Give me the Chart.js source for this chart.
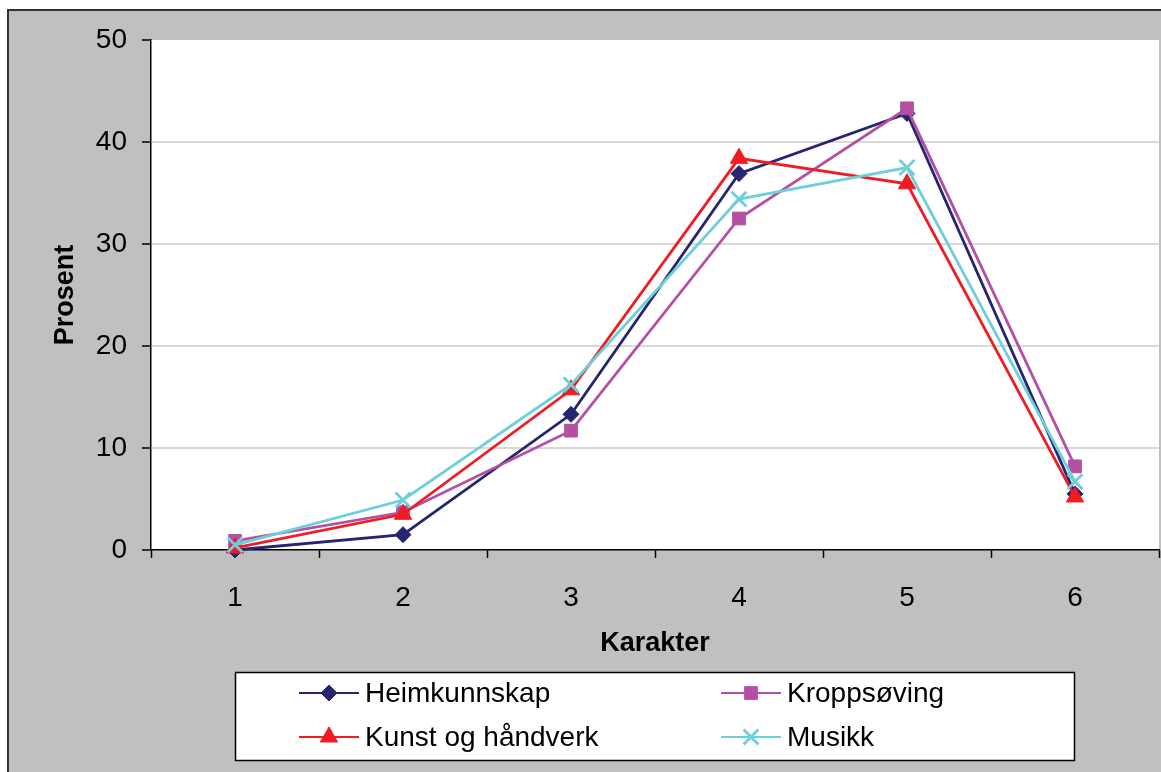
<!DOCTYPE html>
<html>
<head>
<meta charset="utf-8">
<script src="https://cdn.jsdelivr.net/npm/chart.js@4/dist/chart.umd.min.js"></script>
<style>
  html, body { margin: 0; padding: 0; background: #fff; overflow: hidden; }
  #wrap { width: 1161px; height: 772px; }
  #graf { display: block; }
</style>
</head>
<body>
<div id="wrap"><canvas id="graf" width="1161" height="772"></canvas></div>
<script>
const karakterer = ["1", "2", "3", "4", "5", "6"];
const heimkunnskap = [0, 1.5, 13.3, 36.9, 42.8, 5.5];
const kroppsoving = [0.9, 3.7, 11.7, 32.5, 43.3, 8.2];
const kunst = [0.2, 3.5, 15.7, 38.4, 35.9, 5.2];
const musikk = [0.5, 4.9, 16.2, 34.4, 37.5, 6.7];
const serieNavn = ["Heimkunnskap", "Kroppsøving", "Kunst og håndverk", "Musikk"];

const FONT = "'Liberation Sans', Arial, sans-serif";

// grå bakgrunn, ramme og hvit plottflate
const bakgrunn = {
  id: "bakgrunn",
  beforeDraw: (chart) => {
    const ctx = chart.ctx;
    const a = chart.chartArea;
    ctx.save();
    ctx.fillStyle = "#fff";
    ctx.fillRect(0, 0, chart.width, chart.height);
    ctx.fillStyle = "#c0c0c0";
    ctx.fillRect(8, 10, chart.width, chart.height);
    ctx.strokeStyle = "#333";
    ctx.lineWidth = 2;
    ctx.strokeRect(8, 10, chart.width + 10, chart.height + 10);
    ctx.fillStyle = "#fff";
    ctx.fillRect(a.left, a.top, a.right - a.left, a.bottom - a.top);
    ctx.restore();
  },
};

// forklaring i boks under diagrammet, to kolonner
const forklaring = {
  id: "forklaring",
  afterDraw: (chart) => {
    const ctx = chart.ctx;
    ctx.save();
    ctx.fillStyle = "#fff";
    ctx.fillRect(235.5, 672.5, 839, 88);
    ctx.strokeStyle = "#000";
    ctx.lineWidth = 1.5;
    ctx.strokeRect(235.5, 672.5, 839, 88);
    const kol = [299, 721];
    const rad = [693, 737];
    chart.data.datasets.forEach((ds, i) => {
      const x = kol[i % 2];
      const y = rad[Math.floor(i / 2)];
      ctx.strokeStyle = ds.borderColor;
      ctx.lineWidth = 2;
      ctx.beginPath();
      ctx.moveTo(x, y);
      ctx.lineTo(x + 60, y);
      ctx.stroke();
      ctx.fillStyle = ds.backgroundColor;
      ctx.strokeStyle = ds.borderColor;
      ctx.lineWidth = ds.pointBorderWidth;
      if (Chart.helpers && Chart.helpers.drawPoint) {
        Chart.helpers.drawPoint(ctx, {
          pointStyle: ds.pointStyle,
          radius: ds.pointRadius,
          borderWidth: ds.pointBorderWidth,
          rotation: 0,
        }, x + 30, y);
      }
      ctx.fillStyle = "#000";
      ctx.font = "28px " + FONT;
      ctx.textBaseline = "middle";
      ctx.textAlign = "left";
      ctx.fillText(ds.label, x + 66, y + 1);
    });
    ctx.restore();
  },
};

const lagSerie = (navn, data, farge, stil, radius, kant, rekke) => ({
  label: navn,
  data: data,
  borderColor: farge,
  backgroundColor: farge,
  borderWidth: 2.8,
  pointStyle: stil,
  pointRadius: radius,
  pointHoverRadius: radius,
  pointBorderWidth: kant,
  pointBackgroundColor: farge,
  pointBorderColor: farge,
  tension: 0,
  clip: false,
  order: rekke,
});

new Chart(document.getElementById("graf"), {
  type: "line",
  data: {
    labels: karakterer,
    datasets: [
      lagSerie(serieNavn[0], heimkunnskap, "#252570", "rectRot", 8, 1, 3),
      lagSerie(serieNavn[1], kroppsoving, "#b44fa3", "rect", 9, 1, 2),
      lagSerie(serieNavn[2], kunst, "#ee1d24", "triangle", 10, 1, 1),
      lagSerie(serieNavn[3], musikk, "#6dcfdb", "crossRot", 10.5, 2.8, 0),
    ],
  },
  options: {
    responsive: false,
    animation: false,
    layout: { autoPadding: false, padding: { left: 0, top: 40, right: 2, bottom: 112 } },
    plugins: {
      legend: { display: false },
      tooltip: { enabled: false },
    },
    scales: {
      x: {
        offset: true,
        grid: {
          offset: true,
          drawOnChartArea: false,
          tickLength: 8,
          tickColor: "#000",
          tickWidth: 1.5,
        },
        border: { color: "#000", width: 1.5 },
        ticks: { color: "#000", padding: 23, font: { family: FONT, size: 28 } },
        title: {
          display: true,
          text: "Karakter",
          color: "#000",
          padding: { top: 2, bottom: 0 },
          font: { family: FONT, size: 27, weight: "bold" },
        },
        afterFit: (scale) => {
          scale.height = 110;
          scale.paddingLeft = 0;
          scale.paddingRight = 0;
        },
      },
      y: {
        min: 0,
        max: 50,
        grid: {
          color: (c) => (c.tick && (c.tick.value === 0 || c.tick.value === 50) ? "rgba(0,0,0,0)" : "#d9d9d9"),
          lineWidth: 2,
          tickLength: 9,
          tickColor: "#000",
          tickWidth: 1.5,
        },
        border: { color: "#000", width: 1.5 },
        ticks: { stepSize: 10, color: "#000", padding: 15, font: { family: FONT, size: 28 } },
        title: {
          display: true,
          text: "Prosent",
          color: "#000",
          padding: { top: 49, bottom: 0 },
          font: { family: FONT, size: 27, weight: "bold" },
        },
        afterFit: (scale) => { scale.width = 151; },
      },
    },
  },
  plugins: [bakgrunn, forklaring],
});
</script>
</body>
</html>
